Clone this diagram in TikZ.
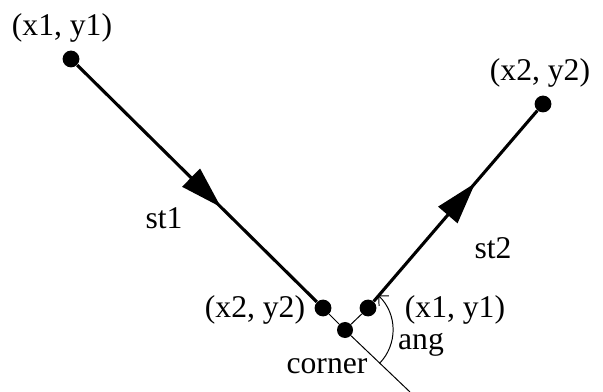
\documentclass[tikz,border=0pt]{standalone}
\usepackage{fontspec}
\setmainfont{Liberation Serif}
\usepackage{tikz}
\usetikzlibrary{arrows.meta,calc,decorations.markings}
\tikzset{dot/.style={circle,fill=black,inner sep=0pt,minimum size=.42cm},
  seg/.style={line width=2.2pt,black},
  guideline/.style={line width=.7pt,black},
  lab/.style={font=\fontsize{22.5}{26}\selectfont,inner sep=0pt},
  midarrow/.style={postaction=decorate,decoration={markings,
    mark=at position #1 with {\arrow{Triangle[length=1.05cm,width=.62cm]}}}}}

\begin{document}
\begin{tikzpicture}[x=.025cm,y=.025cm]
\useasboundingbox (0,0) rectangle (603,-392);
% the two segments
\node[dot] (p1) at (71,-59) {};
\node[dot] (p2) at (323,-308) {};
\node[dot] (q1) at (368,-308) {};
\node[dot] (q2) at (543,-104) {};
\node[dot,minimum size=.4cm] (cn) at (345,-330) {};
\coordinate (ext) at (410,-392);
\draw[seg,midarrow=.6] (p1) -- (p2);
\draw[seg,midarrow=.62] (q1) -- (q2);
\draw[guideline] (p2) -- (cn) -- (q1);
\draw[guideline] (cn) -- (ext);
% angle at the corner
\coordinate (a0) at ($(cn)+(-44:1.2cm)$);
\draw[guideline,-{Straight Barb[length=5pt,width=10pt]}] (a0) arc[start angle=-44,end angle=46,radius=1.2cm];
\node[lab] (l1) at (62,-28) {(x1, y1)};
\node[lab] (l2) at (255,-310) {(x2, y2)};
\node[lab] (l3) at (455,-310) {(x1, y1)};
\node[lab] (l4) at (540,-73) {(x2, y2)};
\node[lab] (s1) at (164,-218) {st1};
\node[lab] (s2) at (493,-248) {st2};
\node[lab] (cl) at (327,-366) {corner};
\node[lab] (al) at (421,-345) {ang};
\end{tikzpicture}
\end{document}
